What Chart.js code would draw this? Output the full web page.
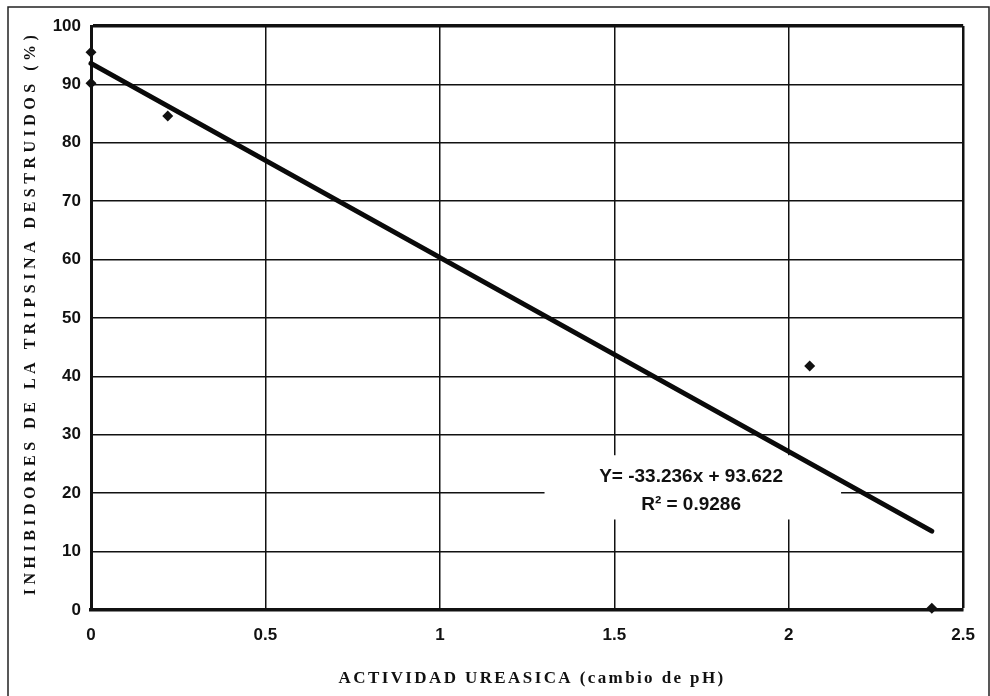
<!DOCTYPE html>
<html>
<head>
<meta charset="utf-8">
<script src="https://cdn.jsdelivr.net/npm/chart.js@4/dist/chart.umd.min.js"></script>
<style>
  html, body { margin: 0; padding: 0; background: #fff; }
  #wrap { width: 990px; height: 696px; position: relative; }
</style>
</head>
<body>
<div id="wrap"><canvas id="chart"></canvas></div>
<script>
// measured points: urease activity (pH change) vs destroyed trypsin inhibitors (%)
const ureaseX = [0, 0, 0.22, 2.06, 2.41];
const inhibitorsY = [95.5, 90.2, 84.6, 41.8, 0.3];

// fitted line as drawn, start and end
const trendX = [0, 2.41];
const trendY = [93.6, 13.5];

const xTickLabels = ["0", "0.5", "1", "1.5", "2", "2.5"];
const equationLines = ["Y= -33.236x + 93.622", "R\u00b2 = 0.9286"];
const xTitle = "ACTIVIDAD UREASICA (cambio de pH)";
const yTitle = "INHIBIDORES DE LA TRIPSINA DESTRUIDOS (%)";

const tickFont = { family: "'Liberation Sans', Arial, sans-serif", size: 17, weight: "bold" };

const paperPlugin = {
  id: "paper",
  beforeDraw(chart) {
    const ctx = chart.ctx;
    ctx.save();
    ctx.fillStyle = "#fff";
    ctx.fillRect(0, 0, chart.width, chart.height);
    ctx.restore();
  },
  beforeDatasetsDraw(chart) {
    const ctx = chart.ctx;
    const x = chart.scales.x;
    const y = chart.scales.y;
    // label box over the grid
    const cx = x.getPixelForValue(1.72);
    const top = y.getPixelForValue(26.5);
    const bottom = y.getPixelForValue(15.5);
    ctx.save();
    ctx.fillStyle = "#fff";
    ctx.fillRect(x.getPixelForValue(1.3), top, x.getPixelForValue(2.15) - x.getPixelForValue(1.3), bottom - top);
    ctx.fillStyle = "#111";
    ctx.font = "bold 19px 'Liberation Sans', Arial, sans-serif";
    ctx.textAlign = "center";
    ctx.textBaseline = "middle";
    ctx.fillText(equationLines[0], cx, y.getPixelForValue(22.8));
    ctx.fillText(equationLines[1], cx, y.getPixelForValue(18));
    ctx.restore();
  },
  afterDraw(chart) {
    const ctx = chart.ctx;
    const area = chart.chartArea;
    ctx.save();
    // page frame
    ctx.strokeStyle = "#222";
    ctx.lineWidth = 1.5;
    ctx.beginPath();
    ctx.moveTo(8, chart.height);
    ctx.lineTo(8, 7);
    ctx.lineTo(989, 7);
    ctx.lineTo(989, chart.height);
    ctx.stroke();

    // axis titles
    ctx.fillStyle = "#111";
    ctx.font = "bold 17px 'Liberation Serif', 'Times New Roman', serif";
    ctx.textAlign = "center";
    ctx.textBaseline = "middle";
    ctx.letterSpacing = "2.4px";
    ctx.fillText(xTitle, (area.left + area.right) / 2 + 5, 679);
    ctx.translate(31, (area.top + area.bottom) / 2 - 5);
    ctx.rotate(-Math.PI / 2);
    ctx.font = "bold 16px 'Liberation Serif', 'Times New Roman', serif";
    ctx.letterSpacing = "4.5px";
    ctx.fillText(yTitle, 0, 0);
    ctx.restore();
  }
};

new Chart(document.getElementById("chart"), {
  type: "scatter",
  data: {
    datasets: [
      {
        label: "Datos",
        data: ureaseX.map((v, i) => ({ x: v, y: inhibitorsY[i] })),
        pointStyle: "rectRot",
        pointRadius: 5.5,
        backgroundColor: "#111",
        borderColor: "#111",
        borderWidth: 0,
        showLine: false,
        clip: false
      },
      {
        label: "Lineal",
        data: trendX.map((v, i) => ({ x: v, y: trendY[i] })),
        showLine: true,
        borderColor: "#0a0a0a",
        borderWidth: 5,
        pointRadius: 0,
        borderCapStyle: "round",
        clip: false
      }
    ]
  },
  options: {
    responsive: true,
    maintainAspectRatio: false,
    animation: false,
    devicePixelRatio: 1,
    layout: { padding: { left: 8, right: 25, top: 26, bottom: 0 } },
    plugins: {
      legend: { display: false },
      tooltip: { enabled: false }
    },
    scales: {
      x: {
        type: "linear",
        min: 0,
        max: 2.5,
        afterFit: (scale) => { scale.height = 86; },
        ticks: {
          stepSize: 0.5,
          padding: 15,
          color: "#111",
          font: tickFont,
          maxRotation: 0,
          callback: (value, index) => xTickLabels[index]
        },
        grid: {
          color: "#111",
          drawTicks: false,
          lineWidth: (ctx) => (ctx.tick && ctx.tick.value === 2.5 ? 2.5 : 1.5)
        },
        border: { color: "#111", width: 3.5 }
      },
      y: {
        type: "linear",
        min: 0,
        max: 100,
        afterFit: (scale) => { scale.width = 83; },
        ticks: { stepSize: 10, padding: 10, color: "#111", font: tickFont },
        grid: {
          color: "#111",
          drawTicks: false,
          lineWidth: (ctx) => (ctx.tick && ctx.tick.value === 100 ? 3.5 : 1.5)
        },
        border: { color: "#111", width: 3 }
      }
    }
  },
  plugins: [paperPlugin]
});
</script>
</body>
</html>
